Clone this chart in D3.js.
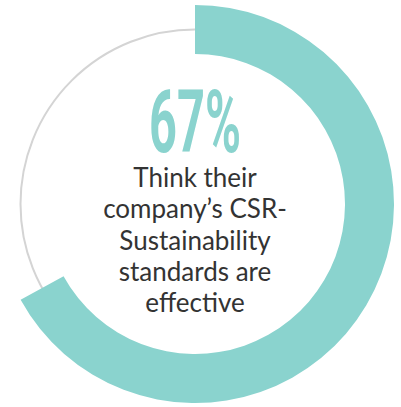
<!DOCTYPE html>
<html>
<head>
<meta charset="utf-8">
<script src="https://cdn.jsdelivr.net/npm/d3@7"></script>
<style>
  body { margin: 0; background: #fff; }
</style>
</head>
<body>
<div id="chart-container"></div>
<script>
// Chart data
const shareValue = [67];
const valueLabel = ["67%"];
const captionLines = ["Think their", "company\u2019s CSR-", "Sustainability", "standards are", "effective"];

const width = 401;
const height = 407;
const cx = 195, cy = 204;
const outerR = 199, innerR = 150, trackR = 174.5;

const svg = d3.select("#chart-container")
  .append("svg")
  .attr("width", width)
  .attr("height", height);

const g = svg.append("g")
  .attr("transform", `translate(${cx},${cy})`);

// percent -> angle
const angle = d3.scaleLinear().domain([0, 100]).range([0, 2 * Math.PI]);

// thin grey track
g.append("circle")
  .attr("r", trackR)
  .attr("fill", "none")
  .attr("stroke", "#d4d4d4")
  .attr("stroke-width", 2);

const arc = d3.arc()
  .innerRadius(innerR)
  .outerRadius(outerR);

g.append("path")
  .datum({ startAngle: angle(0), endAngle: angle(shareValue[0]) })
  .attr("d", arc)
  .attr("fill", "#8ad3ce");

// big percentage
g.append("text")
  .attr("x", 0)
  .attr("y", -52)
  .attr("text-anchor", "middle")
  .attr("font-family", "Roboto")
  .attr("font-weight", 700)
  .attr("font-size", 88)
  .attr("textLength", 92)
  .attr("lengthAdjust", "spacingAndGlyphs")
  .attr("fill", "#8ad3ce")
  .text(valueLabel[0]);

// caption
g.selectAll("text.caption")
  .data(captionLines)
  .join("text")
  .attr("class", "caption")
  .attr("x", 0)
  .attr("y", (d, i) => -17 + i * 31.3)
  .attr("text-anchor", "middle")
  .attr("font-family", "Lato")
  .attr("font-size", 26)
  .attr("fill", "#333333")
  .text(d => d);
</script>
</body>
</html>
